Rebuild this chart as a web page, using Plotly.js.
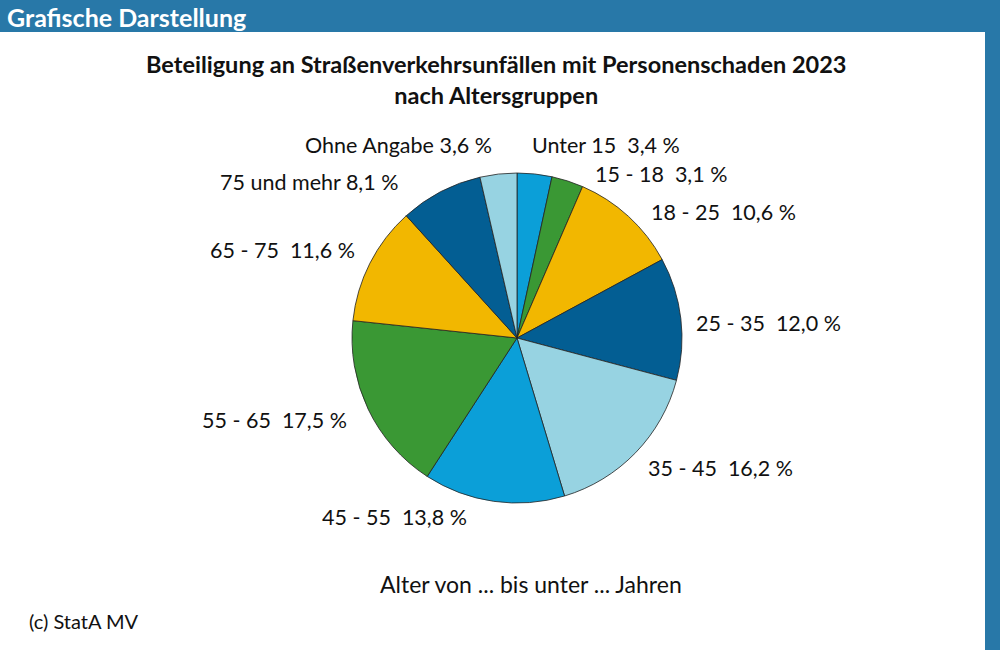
<!DOCTYPE html>
<html>
<head>
<meta charset="utf-8">
<script src="https://cdn.plot.ly/plotly-3.0.1.min.js"></script>
<style>
html,body{margin:0;padding:0;background:#fff;}
#chart{width:1000px;height:650px;}
</style>
</head>
<body>
<div id="chart"></div>
<script>
// ---- data ----
const categories = ["Unter 15", "15 - 18", "18 - 25", "25 - 35", "35 - 45", "45 - 55", "55 - 65", "65 - 75", "75 und mehr", "Ohne Angabe"];
const shares = [3.4, 3.1, 10.6, 12.0, 16.2, 13.8, 17.5, 11.6, 8.1, 3.6];
const labelSep = ["  ", "  ", "  ", "  ", "  ", "  ", "  ", "  ", " ", " "];

// ---- styles ----
const C_LB = "#0b9fd8", C_GR = "#3a9834", C_YE = "#f2b700", C_DB = "#035e93", C_PB = "#97d3e2";
const sliceColors = [C_LB, C_GR, C_YE, C_DB, C_PB, C_LB, C_GR, C_YE, C_DB, C_PB];
const HEADER = "#2878a8";
const FONT = "Lato, 'Open Sans', sans-serif";
const W = 1000, H = 650;
// label anchor positions (pixels, text centre)
const labelPos = [[606,145],[661,174],[723,212],[768,323],[720,468],[394,517],[274,420],[282,250],[309,182],[398,145]];

function fmt(v){ return v.toFixed(1).replace(".", ",") + " %"; }

const trace = {
  type: "pie",
  labels: categories,
  values: shares,
  sort: false,
  direction: "clockwise",
  rotation: 0,
  textinfo: "none",
  hoverinfo: "label+value",
  marker: {colors: sliceColors, line: {color: "#222222", width: 0.8}},
  domain: {x: [352/W, 682/W], y: [1 - 503/H, 1 - 173/H]},
  showlegend: false
};

const annotations = [];
categories.forEach((c, i) => {
  annotations.push({
    xref: "paper", yref: "paper",
    x: labelPos[i][0]/W, y: 1 - labelPos[i][1]/H,
    xanchor: "center", yanchor: "middle",
    text: c + labelSep[i] + fmt(shares[i]),
    showarrow: false,
    font: {family: FONT, size: 21.5, color: "#111"}
  });
});
annotations.push({xref:"paper", yref:"paper", x: 5/W, y: 1 - 17/H, xanchor:"left", yanchor:"middle",
  text:"<b>Grafische Darstellung</b>", showarrow:false, font:{family:FONT, size:25, color:"#ffffff"}});
annotations.push({xref:"paper", yref:"paper", x: 496/W, y: 1 - 79/H, xanchor:"center", yanchor:"middle",
  text:"<b>Beteiligung an Straßenverkehrsunfällen mit Personenschaden 2023</b><br><b>nach Altersgruppen</b>",
  showarrow:false, align:"center", font:{family:FONT, size:23.5, color:"#111"}});
annotations.push({xref:"paper", yref:"paper", x: 531/W, y: 1 - 584/H, xanchor:"center", yanchor:"middle",
  text:"Alter von ... bis unter ... Jahren", showarrow:false, font:{family:FONT, size:23, color:"#111"}});
annotations.push({xref:"paper", yref:"paper", x: 27/W, y: 1 - 621/H, xanchor:"left", yanchor:"middle",
  text:"(c) StatA MV", showarrow:false, font:{family:FONT, size:20, color:"#111"}});

const layout = {
  width: W, height: H,
  margin: {l:0, r:0, t:0, b:0},
  paper_bgcolor: "#ffffff",
  shapes: [
    {type:"rect", xref:"paper", yref:"paper", x0:0, x1:1, y0:1 - 32/H, y1:1, fillcolor:HEADER, line:{width:0}, layer:"below"},
    {type:"rect", xref:"paper", yref:"paper", x0:985/W, x1:1, y0:0, y1:1, fillcolor:HEADER, line:{width:0}, layer:"below"}
  ],
  annotations: annotations
};

Plotly.newPlot("chart", [trace], layout, {displayModeBar:false, staticPlot:true});
</script>
</body>
</html>
